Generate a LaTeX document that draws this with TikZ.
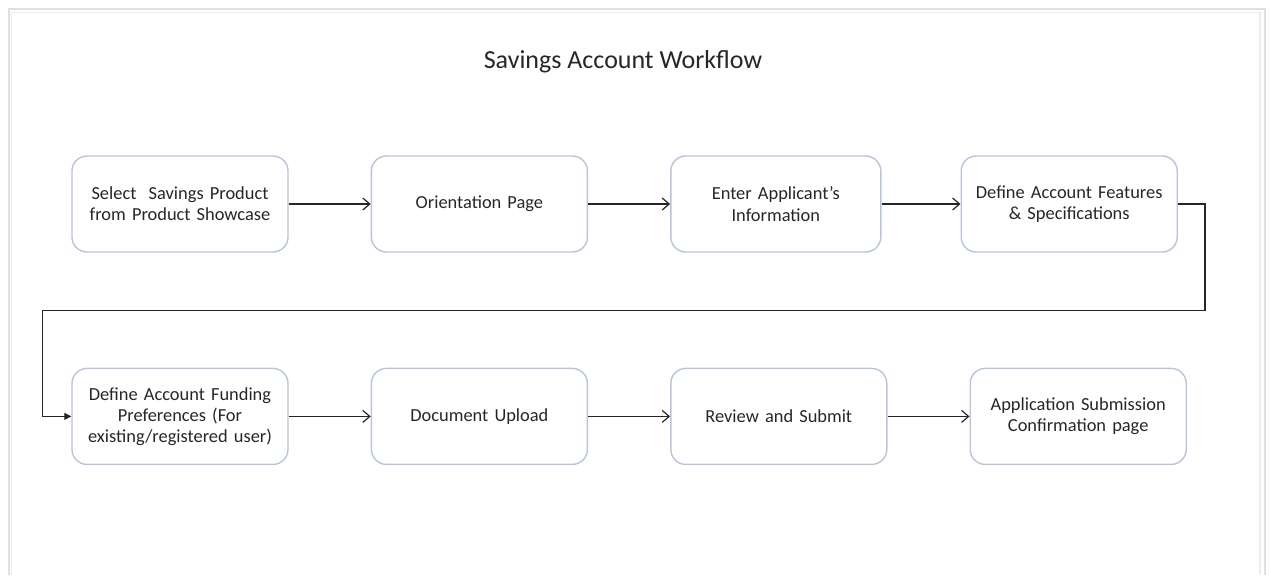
\documentclass[tikz,border=0pt]{standalone}
\usepackage{fontspec}
\setmainfont{Carlito}
\usetikzlibrary{arrows.meta,calc,positioning}
\definecolor{boxedge}{RGB}{184,196,216}
\definecolor{framegray}{RGB}{224,224,224}
\definecolor{frameinner}{RGB}{238,238,232}
\definecolor{inkgray}{RGB}{38,38,38}
\tikzset{
    %Define standard arrow tip
    >={Straight Barb[length=3.5pt,width=6pt]},
    %Define style for steps
    stepbox/.style={
           rectangle,
           rounded corners=7.5pt,
           draw=boxedge, line width=0.7pt,
           minimum width=108pt,
           minimum height=48pt,
           text width=100pt,
           align=center,
           font=\fontsize{9.2}{10.6}\selectfont,
           text=inkgray},
    % Define arrow style
    pil/.style={
           ->,
           draw=inkgray,
           line width=0.6pt},
    loopline/.style={
           -{Triangle[length=3.5pt,width=3.5pt]},
           draw=inkgray,
           line width=0.6pt}
}
\begin{document}
\begin{tikzpicture}[node distance=57.5pt and 41pt]
\useasboundingbox (0,0) rectangle (635.5pt,-287.5pt);
 %frame
\draw[framegray, line width=1pt] (4.25pt,-287.5pt) |- (632.5pt,-4.25pt) -- (632.5pt,-287.5pt);
\draw[frameinner, line width=0.8pt] (5.75pt,-287.5pt) |- (630pt,-6.25pt) -- (630pt,-287.5pt);
 %title
\node[font=\fontsize{13}{15}\selectfont, text=inkgray] (title) at (311.5pt,-31pt) {Savings Account Workflow};
 %nodes
\node[stepbox] (select) at (90pt,-102pt) {Select\ \ Savings Product\\from Product Showcase};
\node[stepbox, right=of select] (orient) {Orientation Page};
\node[stepbox, right=of orient, minimum width=105pt, text width=97pt] (applicant) {Enter Applicant’s\\Information};
\node[stepbox, right=39.5pt of applicant] (features) {Define Account Features\\\& Specifications};
\node[stepbox, below=of select] (funding) {Define Account Funding\\Preferences (For\\existing/registered user)};
\node[stepbox, right=of funding] (upload) {Document Upload};
\node[stepbox, right=of upload] (review) {Review and Submit};
\node[stepbox, right=of review] (confirm) {Application Submission\\Confirmation page};
\path[pil]
    (select) edge (orient)
    (orient) edge (applicant)
    (applicant) edge (features)
    (funding) edge (upload)
    (upload) edge (review)
    (review) edge (confirm);
 %turn to the second row
\coordinate[right=13.5pt of features.east] (loopR);
\coordinate[left=14.5pt of funding.west] (loopL);
\coordinate (midrow) at ($(select.south)!.5!(funding.north)$);
\draw[loopline] (features.east) -- (loopR) -- (loopR |- midrow) -- (loopL |- midrow) -- (loopL) -- (funding.west);
\end{tikzpicture}
\end{document}
